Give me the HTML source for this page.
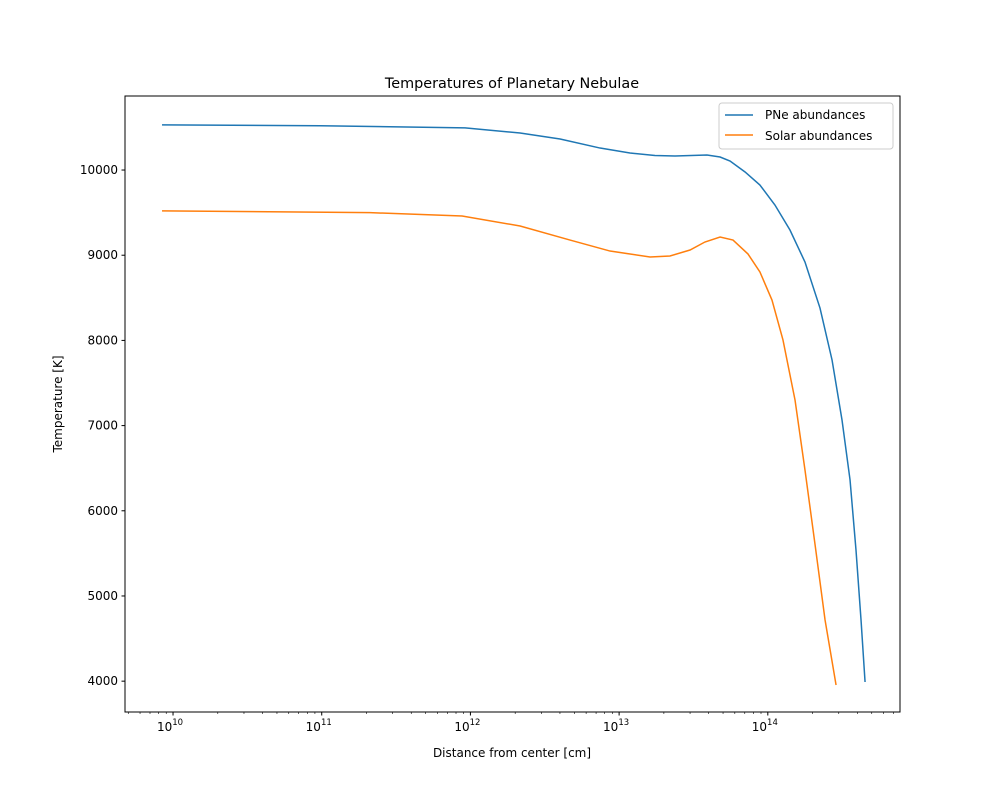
<!DOCTYPE html>
<html><head><meta charset="utf-8"><style>body{margin:0;background:#fff}svg{display:block;font-family:"DejaVu Sans","Liberation Sans",sans-serif}</style></head>
<body>
<svg id="c" width="1000" height="800"></svg>
<script>
const pneLogDist=[9.926,10.989,11.964,12.334,12.603,12.872,13.073,13.241,13.376,13.591,13.679,13.746,13.847,13.947,14.048,14.149,14.250,14.351,14.432,14.499,14.553,14.593,14.627,14.654];
const pneTemp=[10530,10520,10495,10434,10364,10258,10200,10170,10164,10176,10153,10106,9977,9824,9589,9296,8920,8380,7770,7066,6362,5540,4716,3990];
const solarLogDist=[9.926,11.325,11.944,12.334,12.670,12.939,13.208,13.342,13.477,13.577,13.679,13.766,13.867,13.947,14.028,14.102,14.183,14.250,14.318,14.385,14.459];
const solarTemp=[9520,9500,9460,9343,9178,9049,8979,8991,9061,9155,9214,9178,9014,8803,8474,8005,7300,6479,5599,4718,3955];
const yTicks=[4000,5000,6000,7000,8000,9000,10000];
const xDecades=[10,11,12,13,14];
const L=125,R=900,T=96,B=712;
const xMin=9.677,xMax=14.889,yMin=3638,yMax=10869;
const X=v=>L+(v-xMin)/(xMax-xMin)*(R-L);
const Y=v=>B-(v-yMin)/(yMax-yMin)*(B-T);
const s=document.getElementById('c');const NS='http://www.w3.org/2000/svg';
function el(t,a,txt){const e=document.createElementNS(NS,t);for(const k in a)e.setAttribute(k,a[k]);if(txt!==undefined)e.textContent=txt;s.appendChild(e);return e;}
let e;
e=el('rect',{x:L,y:T,width:R-L,height:B-T,fill:'#fff',stroke:'#000','stroke-width':1});

yTicks.forEach(v=>{const y=Y(v);
e=el('line',{x1:L-3.5,x2:L,y1:y,y2:y,stroke:'#000'});
e=el('text',{x:L-7,y:y+4,'text-anchor':'end','font-size':12},v);});
for(let d=9;d<=14;d++){for(let m=2;m<=9;m++){const lv=d+Math.log10(m);if(lv<xMin||lv>xMax)continue;const x=X(lv);
e=el('line',{x1:x,x2:x,y1:B,y2:B+2,stroke:'#000','stroke-width':0.6});}}
xDecades.forEach(d=>{const x=X(d);
e=el('line',{x1:x,x2:x,y1:B,y2:B+3.5,stroke:'#000'});
const t=el('text',{x:x-3,y:B+19,'text-anchor':'middle','font-size':12},'10');
const sp=document.createElementNS(NS,'tspan');sp.setAttribute('font-size',8.5);sp.setAttribute('dy',-6);sp.textContent=d;t.appendChild(sp);});
function line(xs,ys,c,n){e=el('polyline',{points:xs.map((v,i)=>X(v)+','+Y(ys[i])).join(' '),fill:'none',stroke:c,'stroke-width':1.5});}
line(pneLogDist,pneTemp,'#1f77b4','pne-line');
line(solarLogDist,solarTemp,'#ff7f0e','solar-line');
e=el('text',{x:512,y:88,'text-anchor':'middle','font-size':14.4},'Temperatures of Planetary Nebulae');
e=el('text',{x:512,y:757,'text-anchor':'middle','font-size':12},'Distance from center [cm]');
e=el('text',{x:62,y:404,'text-anchor':'middle','font-size':12,transform:'rotate(-90 62 404)'},'Temperature [K]');
e=el('rect',{x:719,y:103,width:174,height:46,rx:3,fill:'#fff',stroke:'#ccc'});
e=el('line',{x1:725,x2:753,y1:115,y2:115,stroke:'#1f77b4','stroke-width':1.5});
e=el('text',{x:765,y:119,'font-size':12},'PNe abundances');
e=el('line',{x1:725,x2:753,y1:135,y2:135,stroke:'#ff7f0e','stroke-width':1.5});
e=el('text',{x:765,y:140,'font-size':12},'Solar abundances');
</script>
</body></html>
